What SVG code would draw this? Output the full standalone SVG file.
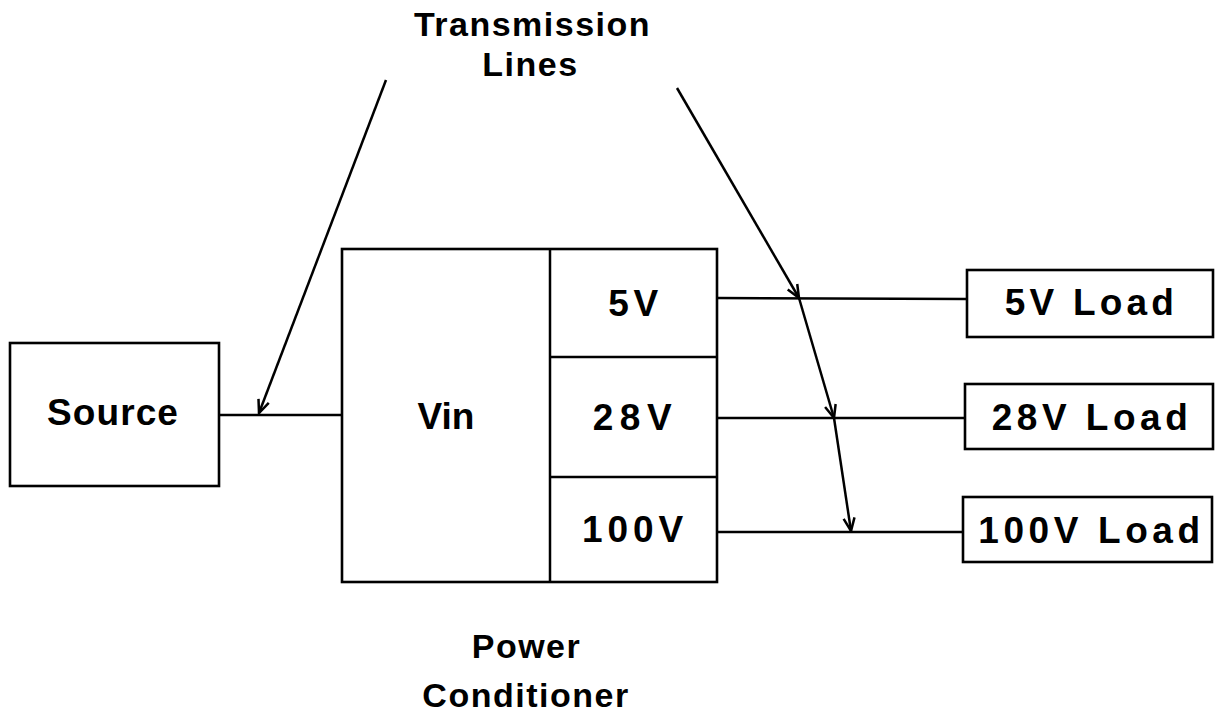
<svg xmlns="http://www.w3.org/2000/svg" width="1217" height="717" viewBox="0 0 1217 717">
<style>
.box{fill:#fff;stroke:#000;stroke-width:2.6}
.ln{fill:none;stroke:#000;stroke-width:2.5}
.t{font-family:"Liberation Sans",Arial,sans-serif;font-weight:bold;font-size:37px;text-anchor:middle;fill:#000}
.tl{font-family:"Liberation Sans",Arial,sans-serif;font-weight:bold;font-size:34px;letter-spacing:1.5px;text-anchor:middle;fill:#000}
</style>
<defs>
<marker id="ah" viewBox="-14 -8 16 16" markerWidth="16" markerHeight="16" refX="0" refY="0" orient="auto" markerUnits="userSpaceOnUse">
<path d="M-13,-5.5 L0,0 L-13,5.5" fill="none" stroke="#000" stroke-width="2.5"/>
</marker>
</defs>
<g id="connectors">
<line class="ln" x1="219" y1="415" x2="342" y2="415"/>
<line class="ln" x1="717" y1="298" x2="967" y2="299"/>
<line class="ln" x1="717" y1="418" x2="965" y2="418"/>
<line class="ln" x1="717" y1="532" x2="963" y2="532"/>
<line class="ln" x1="386" y1="80" x2="259" y2="413" marker-end="url(#ah)"/>
<line class="ln" x1="677" y1="88" x2="799" y2="298" marker-end="url(#ah)"/>
<line class="ln" x1="799" y1="298" x2="834" y2="418" marker-end="url(#ah)"/>
<line class="ln" x1="834" y1="418" x2="851" y2="531" marker-end="url(#ah)"/>
</g>
<g id="label-transmission">
<text class="tl" x="532.5" y="36">Transmission</text>
<text class="tl" x="530.5" y="76">Lines</text>
</g>
<g id="source">
<rect class="box" x="10" y="343" width="209" height="143"/>
<text class="t" x="113" y="425" letter-spacing="1.1">Source</text>
</g>
<g id="power-conditioner">
<rect class="box" x="342" y="249" width="375" height="333"/>
<line class="ln" x1="550" y1="249" x2="550" y2="582"/>
<line class="ln" x1="550" y1="357" x2="717" y2="357"/>
<line class="ln" x1="550" y1="477" x2="717" y2="477"/>
<text class="t" x="446" y="429" font-size="35">Vin</text>
</g>
<g id="out-5v"><text class="t" x="635.5" y="316" letter-spacing="4.7">5V</text></g>
<g id="out-28v"><text class="t" x="635.5" y="430" letter-spacing="6.6">28V</text></g>
<g id="out-100v"><text class="t" x="635" y="542" letter-spacing="4.9">100V</text></g>
<g id="label-power-conditioner">
<text class="tl" x="526.5" y="658" letter-spacing="3.5">Power</text>
<text class="tl" x="526" y="707">Conditioner</text>
</g>
<g id="load-5v">
<rect class="box" x="967" y="270" width="246" height="67"/>
<text class="t" x="1091.5" y="315" letter-spacing="4.2">5V Load</text>
</g>
<g id="load-28v">
<rect class="box" x="965" y="384" width="248" height="65"/>
<text class="t" x="1092" y="430" letter-spacing="4.5">28V Load</text>
</g>
<g id="load-100v">
<rect class="box" x="963" y="497" width="249" height="65"/>
<text class="t" x="1091.5" y="543" letter-spacing="4.6">100V Load</text>
</g>
</svg>
